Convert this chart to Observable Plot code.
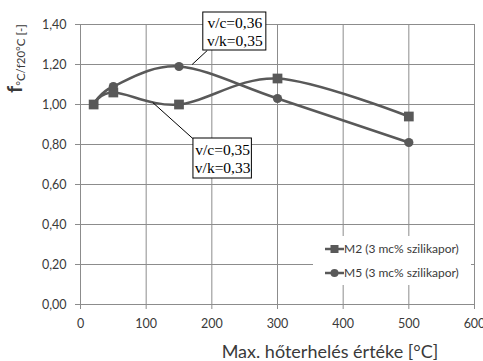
<!DOCTYPE html>
<html>
<head>
<meta charset="utf-8">
<script src="https://cdn.jsdelivr.net/npm/d3@7"></script>
<script src="https://cdn.jsdelivr.net/npm/@observablehq/plot@0.6"></script>
<style>
  html, body { margin: 0; padding: 0; background: #fff; }
  #chart svg { display: block; font-family: Lato, sans-serif; }
</style>
</head>
<body>
<div id="chart"></div>
<script>
// ---- data ----
const temps = [20, 50, 150, 300, 500];
const m2 = [1.00, 1.06, 1.00, 1.13, 0.94];
const m5 = [1.00, 1.09, 1.19, 1.03, 0.81];
const seriesNames = ["M2 (3 mc% szilikapor)", "M5 (3 mc% szilikapor)"];
const xTicks = [0, 100, 200, 300, 400, 500, 600];
const yTicks = [0, 0.2, 0.4, 0.6, 0.8, 1.0, 1.2, 1.4];
const xTitle = "Max. hőterhelés értéke [°C]";
// annotations (data coordinates)
const noteText = ["v/c=0,36\nv/k=0,35", "v/c=0,35\nv/k=0,33"];
const noteX1 = [187, 172];
const noteX2 = [283, 261];
const noteY1 = [1.27, 0.63];
const noteY2 = [1.46, 0.83];
const pointFromX = [170, 110];
const pointFromY = [1.20, 1.01];
const pointToX = [193, 171];
const pointToY = [1.27, 0.83];

// ---- build tables ----
const rows = [];
temps.forEach((t, i) => {
  rows.push({s: seriesNames[0], x: t, y: m2[i]});
});
temps.forEach((t, i) => {
  rows.push({s: seriesNames[1], x: t, y: m5[i]});
});
const notes = noteText.map((t, i) => ({
  t, x1: noteX1[i], x2: noteX2[i], y1: noteY1[i], y2: noteY2[i],
  cx: (noteX1[i] + noteX2[i]) / 2, cy: (noteY1[i] + noteY2[i]) / 2,
  fx: pointFromX[i], fy: pointFromY[i], tx: pointToX[i], ty: pointToY[i]
}));

const ink = "#595959";
const gridC = "#8c8c8c";
const txt = "#3a3a3a";
const fmt = d => d3.format(".2f")(d).replace(".", ",");

const chart = Plot.plot({
  width: 483,
  height: 361,
  marginLeft: 80,
  marginRight: 9,
  marginTop: 24,
  marginBottom: 57,
  style: {fontFamily: "Lato, sans-serif", fontSize: "12.5px", color: txt, background: "#fff"},
  x: {domain: [0, 600]},
  y: {domain: [0, 1.4]},
  marks: [
    Plot.gridX(xTicks, {stroke: gridC, strokeOpacity: 1, strokeWidth: 1}),
    Plot.gridY(yTicks, {stroke: gridC, strokeOpacity: 1, strokeWidth: 1}),
    Plot.axisX({ticks: xTicks, tickSize: 5, tickPadding: 10, stroke: gridC, label: null, fill: txt}),
    Plot.axisY({ticks: yTicks, tickSize: 5, tickPadding: 9, stroke: gridC, label: null, tickFormat: fmt, fill: txt}),
    Plot.line(rows, {x: "x", y: "y", z: "s", stroke: ink, strokeWidth: 2.5, curve: "cardinal"}),
    Plot.dot(rows.filter(d => d.s === seriesNames[0]), {x: "x", y: "y", symbol: "square", r: 5.5, fill: ink, stroke: "none"}),
    Plot.dot(rows.filter(d => d.s === seriesNames[1]), {x: "x", y: "y", symbol: "circle", r: 4.6, fill: ink, stroke: "none"}),
    Plot.link(notes, {x1: "fx", y1: "fy", x2: "tx", y2: "ty", stroke: "#000", strokeWidth: 1}),
    Plot.rect(notes, {x1: "x1", x2: "x2", y1: "y1", y2: "y2", fill: "#fff", stroke: "#000", strokeWidth: 1}),
    Plot.text(notes, {x: "cx", y: "cy", text: "t", fontFamily: "'Liberation Serif', serif", fontSize: 15.5, fill: "#000", lineHeight: 1.15})
  ]
});

const svg = d3.select(chart);

// legend
const lg = svg.append("g").attr("text-anchor", "start");
lg.append("rect").attr("x", 313).attr("y", 236).attr("width", 158).attr("height", 49).attr("fill", "#fff");
const rowsY = [249, 273];
seriesNames.forEach((name, i) => {
  const y = rowsY[i];
  lg.append("line").attr("x1", 325).attr("x2", 344).attr("y1", y).attr("y2", y)
    .attr("stroke", ink).attr("stroke-width", 2.5);
  if (i === 0) {
    lg.append("rect").attr("x", 330.5).attr("y", y - 4).attr("width", 8).attr("height", 8).attr("fill", ink);
  } else {
    lg.append("circle").attr("cx", 334.5).attr("cy", y).attr("r", 4).attr("fill", ink);
  }
  lg.append("text").attr("x", 344).attr("y", y).attr("dy", "0.35em").attr("text-anchor", "start")
    .attr("font-family", "Lato, sans-serif").attr("font-size", 12).attr("fill", txt)
    .text(name);
});

// x title
svg.append("text").attr("x", 330).attr("y", 358).attr("text-anchor", "middle")
  .attr("font-family", "Lato, sans-serif").attr("font-size", 18).attr("fill", txt)
  .text(xTitle);

// y title with subscript
const yt = svg.append("text").attr("transform", "translate(22,93) rotate(-90)")
  .attr("text-anchor", "start")
  .attr("font-family", "Lato, sans-serif").attr("fill", txt);
yt.append("tspan").attr("font-weight", "bold").attr("font-size", 20).text("f");
yt.append("tspan").attr("font-size", 11.5).attr("dy", 3).text("°C/f20°C");
yt.append("tspan").attr("font-size", 11.5).text(" [-]");

document.getElementById("chart").appendChild(chart);
</script>
</body>
</html>
